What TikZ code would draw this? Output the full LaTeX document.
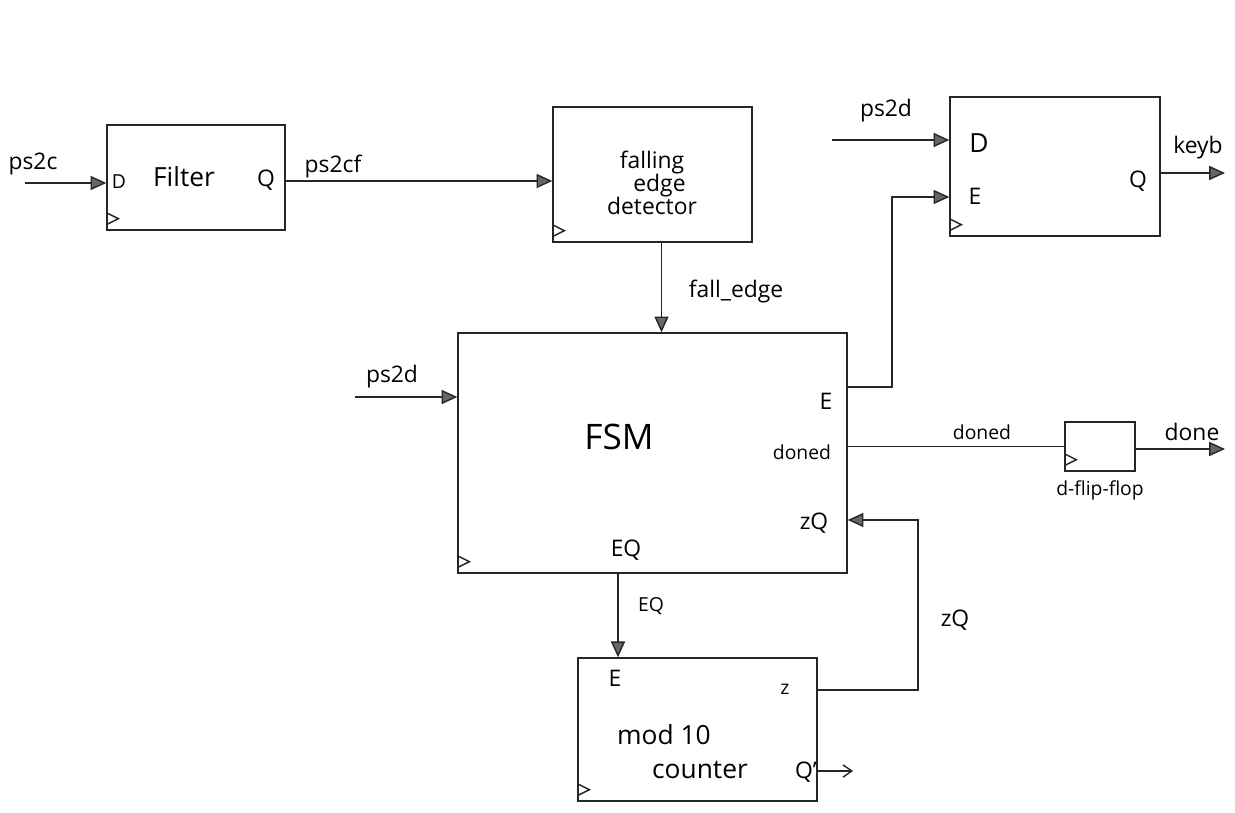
\documentclass[tikz,border=0pt]{standalone}
\usepackage{fontspec}
\setmainfont{Open Sans}
\usetikzlibrary{arrows.meta,calc}
\begin{document}
\begin{tikzpicture}[x=0.02cm,y=-0.02cm,
  blk/.style={draw=black!85, line width=0.8pt, inner sep=0pt},
  wire/.style={draw=black!85, line width=0.8pt},
  arr/.style={wire, -{Triangle[length=9pt,width=8pt,fill=black!60]}},
  oarr/.style={wire, -{Straight Barb[length=5pt,width=7pt]}},
  lbl/.style={font=\fontsize{13}{15}\selectfont, inner sep=0pt},
  sml/.style={font=\fontsize{11}{13}\selectfont, inner sep=0pt},
  big/.style={font=\fontsize{15}{17}\selectfont, inner sep=0pt}]
\useasboundingbox[fill=white] (0,0) rectangle (1235,813);
\newcommand\clk[1]{\draw[wire] ([yshift=0.12cm]#1.south west) -- ++(12,-6) -- ++(-12,-6);}
% boxes
\node[blk, minimum width=3.56cm, minimum height=2.1cm] (filter) at (196,177.5) {};
\node[blk, minimum width=3.98cm, minimum height=2.7cm] (fed) at (652.5,174.5) {};
\node[blk, minimum width=4.2cm, minimum height=2.78cm] (reg) at (1055,166.5) {};
\node[blk, minimum width=7.78cm, minimum height=4.8cm] (fsm) at (652.5,453) {};
\node[blk, minimum width=1.4cm, minimum height=0.98cm] (dff) at (1100,446.5) {};
\node[blk, minimum width=4.78cm, minimum height=2.86cm] (cnt) at (697.5,729.5) {};
\clk{filter}\clk{fed}\clk{reg}\clk{fsm}\clk{dff}\clk{cnt}
% free ends
\coordinate (ps2cin) at (25,183);
\coordinate (ps2din) at (355,397);
\coordinate (ps2din2) at (832,140);
\coordinate (keybout) at (1225,173);
\coordinate (doneout) at (1225,449);
\coordinate (qout) at (853,771);
\coordinate (eturn) at (892,197);
\coordinate (zturn) at (918,520);
% connectors
\draw[arr] (ps2cin) -- (filter.west |- ps2cin);
\draw[arr] (filter.east |- 0,181) -- (fed.west |- 0,181);
\draw[arr] ([xshift=0.18cm]fed.south) -- ([xshift=0.18cm]fsm.north);
\draw[arr] (ps2din) -- (fsm.west |- ps2din);
\draw[arr] (fsm.east |- 0,387) -| (eturn) -- (reg.west |- eturn);
\draw[arr] (ps2din2) -- (reg.west |- ps2din2);
\draw[arr] (reg.east |- keybout) -- (keybout);
\draw[wire] (fsm.east |- dff.west) -- (dff.west);
\draw[arr] (dff.east |- doneout) -- (doneout);
\draw[arr] (cnt.east |- 0,690) -| (zturn) -- (fsm.east |- zturn);
\draw[arr] (fsm.south -| 618,0) -- (cnt.north -| 618,0);
\draw[oarr] (cnt.east |- qout) -- (qout);
% texts
\node[lbl] at (33,164) {ps2c};
\node[sml] at (119,182) {D};
\node[big] at (184,177) {Filter};
\node[lbl] at (266,180) {Q};
\node[lbl] at (333,167) {ps2cf};
\node[lbl, align=center] at (652,183) {falling\\[-2pt]\hspace*{0.3cm}edge\\[-2pt]detector};
\node[lbl] at (736,292) {fall\_edge};
\node[lbl] at (886,111) {ps2d};
\node[big] at (979,143) {D};
\node[lbl] at (975,196) {E};
\node[lbl] at (1138,181) {Q};
\node[lbl] at (1198,148) {keyb};
\node[lbl] at (392,377) {ps2d};
\node[font=\fontsize{20}{22}\selectfont, inner sep=0pt] at (619,437) {FSM};
\node[lbl] at (826,401) {E};
\node[sml] at (802,452) {doned};
\node[lbl] at (814,523) {zQ};
\node[lbl] at (626,550) {EQ};
\node[sml] at (982,432) {doned};
\node[lbl] at (1192,432) {done};
\node[sml] at (1100,490) {d-flip-flop};
\node[sml] at (651,606) {EQ};
\node[lbl] at (955,620) {zQ};
\node[lbl] at (615,678) {E};
\node[sml] at (785,689) {z};
\node[big] at (664,735) {mod 10};
\node[big] at (700,770) {counter};
\node[lbl] at (806,772) {Q'};
\end{tikzpicture}
\end{document}
